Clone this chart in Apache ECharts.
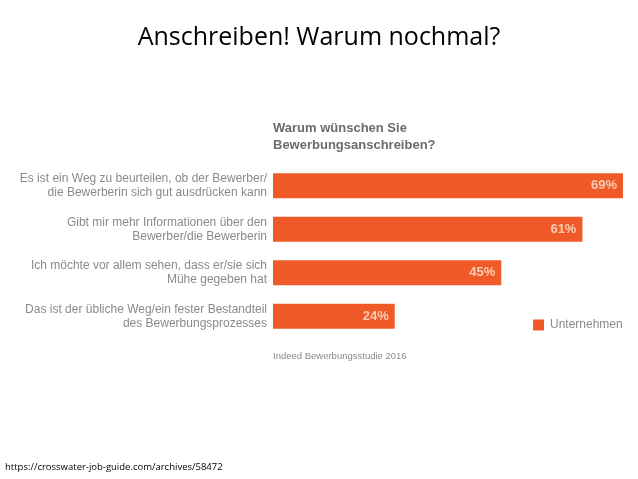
<!DOCTYPE html>
<html><head><meta charset="utf-8">
<script src="https://cdn.jsdelivr.net/npm/echarts@6/dist/echarts.min.js"></script>
<style>html,body{margin:0;padding:0;background:#fff}#c{width:638px;height:479px}</style>
</head><body><div id="c"></div>
<script>
var categories = [
  "Es ist ein Weg zu beurteilen, ob der Bewerber/\ndie Bewerberin sich gut ausdrücken kann",
  "Gibt mir mehr Informationen über den\nBewerber/die Bewerberin",
  "Ich möchte vor allem sehen, dass er/sie sich\nMühe gegeben hat",
  "Das ist der übliche Weg/ein fester Bestandteil\ndes Bewerbungsprozesses"
];
var seriesName = "Unternehmen";
var values = [69, 61, 45, 24];

var chart = echarts.init(document.getElementById('c'));
chart.setOption({
  animation: false,
  title: [
    {text: "Anschreiben! Warum nochmal?", left: 'center', top: 20,
     textStyle: {fontFamily: 'Open Sans', fontSize: 25, fontWeight: 'normal', color: '#000'}},
    {text: "Warum wünschen Sie\nBewerbungsanschreiben?", left: 268, top: 115,
     textStyle: {fontFamily: 'Liberation Sans', fontSize: 13, fontWeight: 'bold', color: '#6b6b6b', lineHeight: 17}},
    {text: "Indeed Bewerbungsstudie 2016", left: 268, top: 346,
     textStyle: {fontFamily: 'Liberation Sans', fontSize: 9.5, fontWeight: 'normal', color: '#8a8a8a'}},
    {text: "https://crosswater-job-guide.com/archives/58472", left: 0, top: 457,
     textStyle: {fontFamily: 'Open Sans', fontSize: 9.5, fontWeight: 'normal', color: '#000'}}
  ],
  legend: {
    data: [seriesName], left: 528, top: 314, icon: 'rect', itemWidth: 11, itemHeight: 11, itemGap: 6,
    textStyle: {fontFamily: 'Liberation Sans', fontSize: 12, color: '#8a8a8a', padding: [0,0,0,1]}
  },
  grid: {left: 273, right: 15, top: 164, bottom: 141, containLabel: false},
  xAxis: {type: 'value', min: 0, max: 69, show: false},
  yAxis: {
    type: 'category', data: categories, inverse: true,
    axisLine: {show: false}, axisTick: {show: false},
    axisLabel: {margin: 6, fontFamily: 'Liberation Sans', fontSize: 12, color: '#8a8a8a', lineHeight: 14, align: 'right'}
  },
  series: [{
    name: seriesName, type: 'bar', data: values, barWidth: 25,
    itemStyle: {color: '#f05a28'},
    label: {show: true, position: 'insideRight', distance: 6, formatter: '{c}%',
      fontFamily: 'Liberation Sans', fontSize: 13, fontWeight: 'bold', color: '#f9cdb3'}
  }]
});
</script></body></html>
